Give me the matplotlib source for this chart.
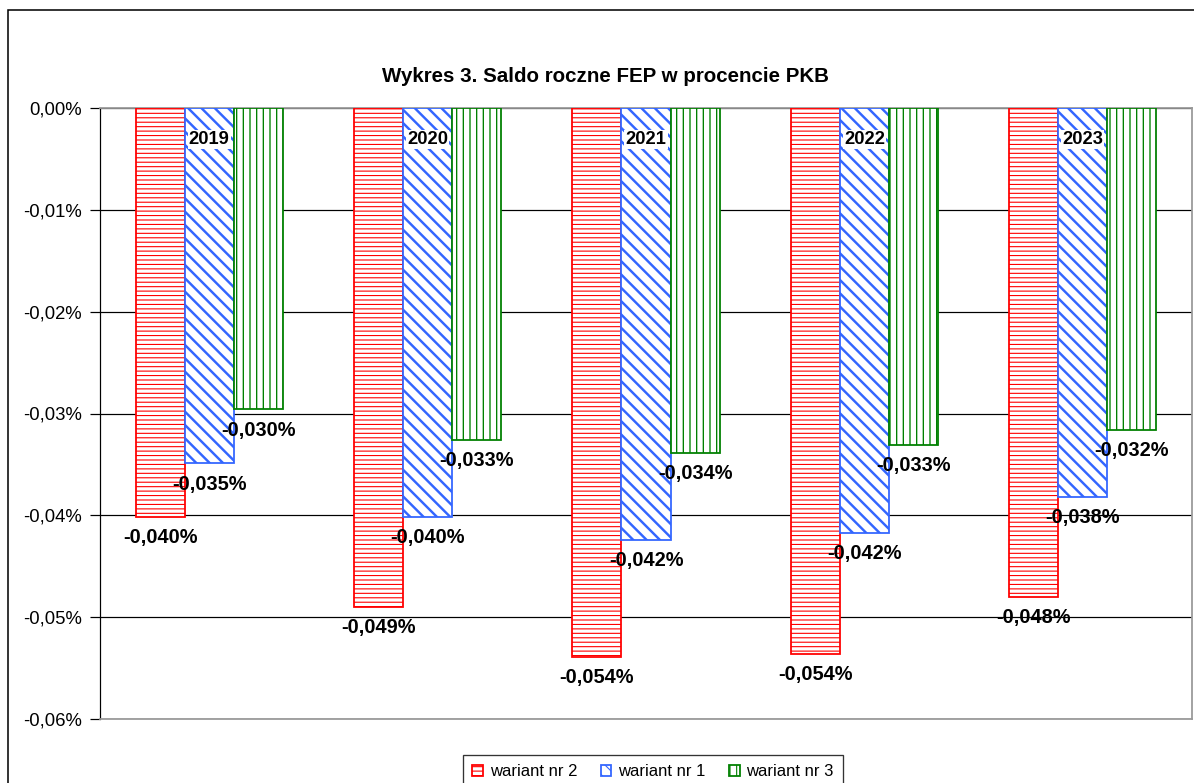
import matplotlib
matplotlib.use("Agg")
import matplotlib.pyplot as plt
import numpy as np
from matplotlib.patches import Rectangle
from matplotlib.ticker import FuncFormatter

# values in percent of GDP
years = ['2019', '2020', '2021', '2022', '2023']
wariant2 = [-0.0402, -0.0490, -0.0539, -0.0536, -0.0480]
wariant1 = [-0.0349, -0.0402, -0.0424, -0.0417, -0.0382]
wariant3 = [-0.0296, -0.0326, -0.0339, -0.0331, -0.0316]
yticks = [0.0, -0.01, -0.02, -0.03, -0.04, -0.05, -0.06]

plt.rcParams['font.family'] = ['Liberation Sans', 'DejaVu Sans']
plt.rcParams['hatch.linewidth'] = 1.0

DPI = 80
fig = plt.figure(figsize=(1194 / DPI, 783 / DPI), dpi=DPI)
ax = fig.add_axes([100 / 1194, 1 - 719 / 783, 1092 / 1194, (719 - 108) / 783])

x = np.arange(len(years))
w = 0.2244
series = [
    (wariant2, 'wariant nr 2', '#ff0000', '---', -w, 1.0),
    (wariant1, 'wariant nr 1', '#3366ff', '\\\\', 0.0, 2.2),
    (wariant3, 'wariant nr 3', '#008000', '||', w, 1.2),
]

handles = []
for vals, name, col, hatch, off, hlw in series:
    bars = ax.bar(x + off, vals, width=w, facecolor='white', edgecolor=col,
                  hatch=hatch, linewidth=1.6, label=name, zorder=3)
    for b in bars:
        if hasattr(b, 'set_hatch_linewidth'):
            b.set_hatch_linewidth(hlw)
    handles.append(bars)
    for xi, v in zip(x + off, vals):
        ax.annotate(f"{v:.3f}%".replace('.', ','), (xi, v), xytext=(0, -10),
                    textcoords='offset points', ha='center', va='top',
                    fontsize=18, fontweight='bold', zorder=5)

# year labels inside the middle bars
for xi, yr in zip(x, years):
    ax.text(xi, -0.0031, yr, ha='center', va='center', fontsize=16.5,
            fontweight='bold', zorder=6,
            bbox=dict(facecolor='white', edgecolor='none', pad=1.0))

ax.set_xlim(-0.5, len(years) - 0.5)
ax.set_ylim(-0.06, 0.0)
ax.set_yticks(yticks)
ax.yaxis.set_major_formatter(FuncFormatter(lambda v, p: f"{v:.2f}%".replace('.', ',')))
ax.tick_params(axis='y', direction='out', length=9, width=1.1, pad=7,
               labelsize=16.7, colors='black')
ax.set_xticks([])
ax.grid(axis='y', color='black', linewidth=1.1, zorder=1)
ax.set_axisbelow(True)
for s in ['top', 'right', 'bottom']:
    ax.spines[s].set_color('#999999')
    ax.spines[s].set_linewidth(1.6)
ax.spines['left'].set_color('black')
ax.spines['left'].set_linewidth(1.1)

fig.text(605 / 1194, 1 - 76 / 783, 'Wykres 3. Saldo roczne FEP w procencie PKB',
         ha='center', va='center', fontsize=18.5, fontweight='bold')

leg = fig.legend(handles=handles, loc='upper center',
                 bbox_to_anchor=(653 / 1194, 1 - 755 / 783), ncol=3,
                 fontsize=15, frameon=True, fancybox=False, borderpad=0.55,
                 handlelength=0.65, handleheight=0.65, handletextpad=0.4,
                 columnspacing=1.4, borderaxespad=0)
leg.get_frame().set_edgecolor('black')
leg.get_frame().set_linewidth(1.2)

# outer chart border
fig.patches.append(Rectangle((8 / 1194, -0.05), 1.1, 1.05 - 10 / 783,
                             transform=fig.transFigure, fill=False,
                             edgecolor='black', linewidth=1.4))

fig.savefig('out.png', dpi=DPI)
